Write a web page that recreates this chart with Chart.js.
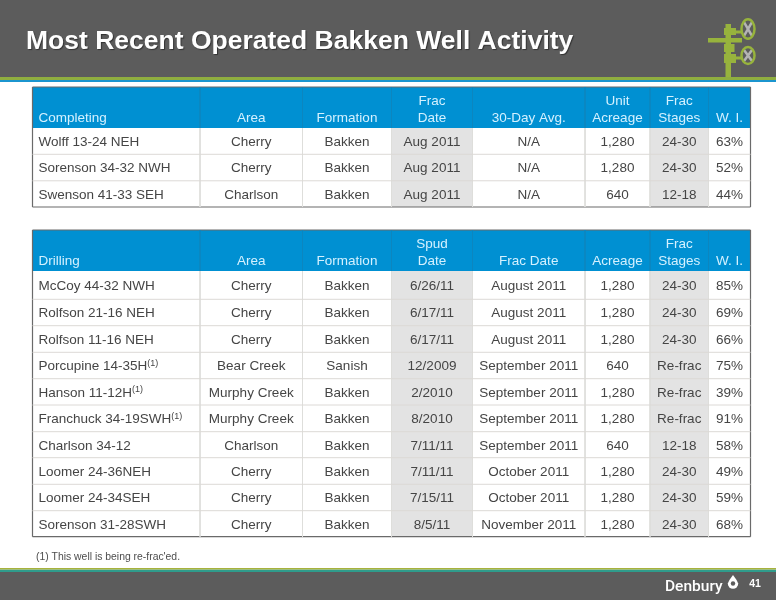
<!DOCTYPE html>
<html>
<head>
<meta charset="utf-8">
<title>Most Recent Operated Bakken Well Activity</title>
<script src="https://cdn.jsdelivr.net/npm/chart.js@4/dist/chart.umd.min.js"></script>
<style>
  html, body { margin: 0; padding: 0; background: #fff; }
  canvas { display: block; }
</style>
</head>
<body>
<canvas id="chart" width="776" height="600"></canvas>
<script>
const slideTitle = 'Most Recent Operated Bakken Well Activity'
const footnote = "(1) This well is being re-frac'ed."
const pageNumber = '41'
const logoText = 'Denbury'

// completing table
const completingHeaders = [['Completing'], ['Area'], ['Formation'], ['Frac', 'Date'], ['30-Day Avg.'], ['Unit', 'Acreage'], ['Frac', 'Stages'], ['W. I.']]
const completingWells = ['Wolff 13-24 NEH', 'Sorenson 34-32 NWH', 'Swenson 41-33 SEH']
const completingAreas = ['Cherry', 'Cherry', 'Charlson']
const completingFormations = ['Bakken', 'Bakken', 'Bakken']
const completingFracDates = ['Aug 2011', 'Aug 2011', 'Aug 2011']
const completingAvg = ['N/A', 'N/A', 'N/A']
const completingAcreage = ['1,280', '1,280', '640']
const completingStages = ['24-30', '24-30', '12-18']
const completingWI = ['63%', '52%', '44%']

// drilling table
const drillingHeaders = [['Drilling'], ['Area'], ['Formation'], ['Spud', 'Date'], ['Frac Date'], ['Acreage'], ['Frac', 'Stages'], ['W. I.']]
const drillingWells = ['McCoy 44-32 NWH', 'Rolfson 21-16 NEH', 'Rolfson 11-16 NEH', 'Porcupine 14-35H(1)', 'Hanson 11-12H(1)', 'Franchuck 34-19SWH(1)', 'Charlson 34-12', 'Loomer 24-36NEH', 'Loomer 24-34SEH', 'Sorenson 31-28SWH']
const drillingAreas = ['Cherry', 'Cherry', 'Cherry', 'Bear Creek', 'Murphy Creek', 'Murphy Creek', 'Charlson', 'Cherry', 'Cherry', 'Cherry']
const drillingFormations = ['Bakken', 'Bakken', 'Bakken', 'Sanish', 'Bakken', 'Bakken', 'Bakken', 'Bakken', 'Bakken', 'Bakken']
const drillingSpud = ['6/26/11', '6/17/11', '6/17/11', '12/2009', '2/2010', '8/2010', '7/11/11', '7/11/11', '7/15/11', '8/5/11']
const drillingFracDates = ['August 2011', 'August 2011', 'August 2011', 'September 2011', 'September 2011', 'September 2011', 'September 2011', 'October 2011', 'October 2011', 'November 2011']
const drillingAcreage = ['1,280', '1,280', '1,280', '640', '1,280', '1,280', '640', '1,280', '1,280', '1,280']
const drillingStages = ['24-30', '24-30', '24-30', 'Re-frac', 'Re-frac', 'Re-frac', '12-18', '24-30', '24-30', '24-30']
const drillingWI = ['85%', '69%', '66%', '75%', '39%', '91%', '58%', '49%', '59%', '68%']

// table layout, in scale units (the scales run 0-776 and 0-600)
const colEdges = [32.5, 200, 302.5, 391.5, 472.5, 585, 650, 708.5, 750.5]
const completingRows = [87, 128, 154.3, 180.8, 207]
const drillingRows = [230, 271, 299.3, 325.7, 352.3, 378.7, 405, 431.7, 457.7, 484.3, 510.7, 536.7]
const shadedCols = [3, 6]

const tables = [
  {
    headers: completingHeaders,
    cols: [completingWells, completingAreas, completingFormations, completingFracDates, completingAvg, completingAcreage, completingStages, completingWI],
    rows: completingRows
  },
  {
    headers: drillingHeaders,
    cols: [drillingWells, drillingAreas, drillingFormations, drillingSpud, drillingFracDates, drillingAcreage, drillingStages, drillingWI],
    rows: drillingRows
  }
]

const textFont = '"Liberation Sans", Arial, sans-serif'

// a floating bar from x0-x1 and y0-y1
function band(x0, x1, y0, y1, color) {
  return {
    type: 'bar',
    data: [{x: (x0 + x1) / 2, y: [y0, y1]}],
    barThickness: x1 - x0,
    backgroundColor: color,
    borderWidth: 0,
    inflateAmount: 0,
    order: 5
  }
}

// line pieces, broken up with null points
function lines(pieces, color, width) {
  const data = []
  pieces.forEach(p => {
    data.push({x: p[0], y: p[1]}, {x: p[2], y: p[3]}, {x: p[2], y: null})
  })
  return {
    type: 'line',
    data,
    borderColor: color,
    borderWidth: width,
    pointRadius: 0,
    tension: 0,
    spanGaps: false,
    order: 1
  }
}

const datasets = [
  band(0, 776, 0, 77, '#5c5c5c'),
  band(0, 776, 77, 80, '#8fae3f'),
  band(0, 776, 80, 82, '#1b95cf'),
  band(0, 776, 568, 569.5, '#a8b23c'),
  band(0, 776, 569.5, 572, '#2f9c8c'),
  band(0, 776, 572, 600, '#5c5c5c')
]

tables.forEach(t => {
  const first = colEdges[0]
  const last = colEdges[colEdges.length - 1]
  const top = t.rows[0]
  const headBottom = t.rows[1]
  const bottom = t.rows[t.rows.length - 1]

  datasets.push(band(first, last, top, headBottom, '#0090d2'))
  shadedCols.forEach(c => datasets.push(band(colEdges[c], colEdges[c + 1], headBottom, bottom, '#e3e3e3')))

  const inner = colEdges.slice(1, -1)
  datasets.push(lines(t.rows.slice(2, -1).map(y => [first, y, last, y]), '#dcd9d6', 1))
  datasets.push(lines(inner.map(x => [x, headBottom, x, bottom]), '#dededb', 1))
  datasets.push(lines(inner.map(x => [x, top, x, headBottom]), '#0c86bf', 1))
  datasets.push(lines([[first, top, last, top], [last, top, last, bottom], [last, bottom, first, bottom], [first, bottom, first, top]], '#6a6a6a', 1.2))
})

function put(ctx, str, x, y, font, color, align) {
  ctx.font = font
  ctx.fillStyle = color
  ctx.textAlign = align
  ctx.textBaseline = 'middle'
  ctx.fillText(str, x, y)
}

// wellhead icon and logo drop
function drawIcon(ctx, xs, ys) {
  const green = '#97b33d'
  const box = (x0, y0, x1, y1) => ctx.fillRect(xs(x0), ys(y0), xs(x1) - xs(x0), ys(y1) - ys(y0))
  ctx.fillStyle = green
  box(725.5, 24, 731, 77)
  box(708, 38, 742, 42.5)
  box(724, 28, 736, 35)
  box(724, 44, 734.5, 52)
  box(724, 54, 736, 63)
  box(735, 30.5, 742, 33.5)
  box(735, 56.5, 742, 59.5)
  ;[[29, 9.8], [55.5, 8.5]].forEach(([cy, ry]) => {
    ctx.strokeStyle = '#b4b4b4'
    ctx.lineWidth = 2.5
    ctx.beginPath()
    ctx.moveTo(xs(744), ys(cy - ry + 3))
    ctx.lineTo(xs(752), ys(cy + ry - 3))
    ctx.moveTo(xs(752), ys(cy - ry + 3))
    ctx.lineTo(xs(744), ys(cy + ry - 3))
    ctx.stroke()
    ctx.strokeStyle = green
    ctx.beginPath()
    ctx.ellipse(xs(748), ys(cy), 6.5, ry, 0, 0, Math.PI * 2)
    ctx.stroke()
  })
  // drop
  ctx.fillStyle = '#ffffff'
  ctx.beginPath()
  ctx.moveTo(xs(733), ys(575))
  ctx.quadraticCurveTo(xs(729), ys(580), xs(727.8), ys(583.5))
  ctx.arc(xs(733), ys(583.5), 5.2, Math.PI, 0, true)
  ctx.quadraticCurveTo(xs(737), ys(580), xs(733), ys(575))
  ctx.fill()
  ctx.fillStyle = '#5c5c5c'
  ctx.beginPath()
  ctx.arc(xs(733), ys(583.5), 2.2, 0, Math.PI * 2)
  ctx.fill()
}

const tableText = {
  id: 'tableText',
  afterDatasetsDraw(chart) {
    const ctx = chart.ctx
    const xs = v => chart.scales.x.getPixelForValue(v)
    const ys = v => chart.scales.y.getPixelForValue(v)
    const bodyFont = '13.5px ' + textFont
    const bodyColor = '#454545'
    const headColor = '#d4f1ff'

    ctx.save()
    tables.forEach(t => {
      t.headers.forEach((label, c) => {
        const center = c === 0 ? colEdges[0] + 6 : (colEdges[c] + colEdges[c + 1]) / 2
        const align = c === 0 ? 'left' : 'center'
        const lastLine = t.rows[1] - 10
        label.forEach((line, i) => {
          put(ctx, line, xs(center), ys(lastLine - (label.length - 1 - i) * 16.3), bodyFont, headColor, align)
        })
      })
      t.cols.forEach((col, c) => {
        col.forEach((val, r) => {
          const y = ys((t.rows[r + 1] + t.rows[r + 2]) / 2 + 1.2)
          if (c === 0) {
            const note = val.endsWith('(1)')
            const name = note ? val.slice(0, -3) : val
            put(ctx, name, xs(colEdges[0] + 6), y, bodyFont, bodyColor, 'left')
            if (note) {
              const w = ctx.measureText(name).width
              put(ctx, '(1)', xs(colEdges[0] + 6) + w, y - 3.5, '9px ' + textFont, bodyColor, 'left')
            }
          } else {
            put(ctx, val, xs((colEdges[c] + colEdges[c + 1]) / 2), y, bodyFont, bodyColor, 'center')
          }
        })
      })
    })

    ctx.save()
    ctx.shadowColor = 'rgba(0,0,0,0.45)'
    ctx.shadowOffsetX = 1
    ctx.shadowOffsetY = 1
    ctx.shadowBlur = 1
    put(ctx, slideTitle, xs(26), ys(41.5), 'bold 26.5px ' + textFont, '#ffffff', 'left')
    ctx.restore()
    put(ctx, footnote, xs(36), ys(557.5), '10.4px ' + textFont, '#4d4d4d', 'left')
    put(ctx, logoText, xs(665), ys(587.5), '500 15.5px Roboto, sans-serif', '#ffffff', 'left')
    put(ctx, pageNumber, xs(755), ys(584), 'bold 10.5px ' + textFont, '#ffffff', 'center')
    drawIcon(ctx, xs, ys)
    ctx.restore()
  }
}

new Chart(document.getElementById('chart'), {
  type: 'bar',
  data: {datasets},
  plugins: [tableText],
  options: {
    responsive: false,
    animation: false,
    layout: {padding: 0},
    plugins: {legend: {display: false}, title: {display: false}, tooltip: {enabled: false}},
    scales: {
      x: {type: 'linear', min: 0, max: 776, display: false, stacked: true, offset: false},
      y: {type: 'linear', min: 0, max: 600, reverse: true, display: false, stacked: false}
    }
  }
})
</script>
</body>
</html>
